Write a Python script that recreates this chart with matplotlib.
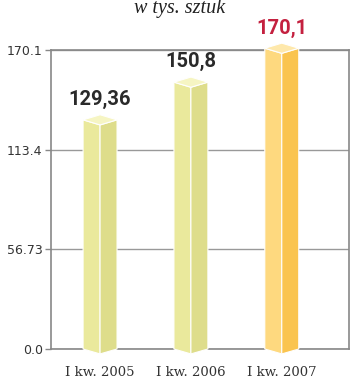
import numpy as np
import matplotlib
matplotlib.use("Agg")
from matplotlib import pyplot as plt
from matplotlib.patches import Polygon

# Data
categories = ["I kw. 2005", "I kw. 2006", "I kw. 2007"]
values = [129.36, 150.8, 170.1]
value_labels = ["129,36", "150,8", "170,1"]
y_ticks = [0.0, 56.73, 113.4, 170.1]
y_tick_labels = ["0.0", "56.73", "113.4", "170.1"]

plain_faces = ("#eae99c", "#dedd8b", "#f6f5c3")
hot_faces = ("#fed97f", "#fac44f", "#fee8ab")

fig = plt.figure(figsize=(3.5, 3.85), dpi=100)
ax = fig.add_axes([51 / 350, 36 / 385, 298 / 350, 299 / 385])

ymax = y_ticks[-1]
ax.set_ylim(0, ymax)
ax.set_xlim(-0.54, 2.74)

half = 0.187
rise = 2.9  # half height of the top rhombus (data units)
drop = 2.8  # depth of the V at the bottom

x = np.arange(len(values))
for i, (xc, v) in enumerate(zip(x, values)):
    left_c, right_c, top_c = hot_faces if i == len(values) - 1 else plain_faces
    xl, xr = xc - half, xc + half
    top = v + 1.0
    left_face = [(xl, top), (xc, top - rise), (xc, -drop), (xl, 0)]
    right_face = [(xc, top - rise), (xr, top), (xr, 0), (xc, -drop)]
    top_face = [(xl, top), (xc, top - rise), (xr, top), (xc, top + rise)]
    for pts, col in ((left_face, left_c), (right_face, right_c), (top_face, top_c)):
        ax.add_patch(Polygon(pts, closed=True, facecolor=col, edgecolor="white",
                             linewidth=0.8, clip_on=False, zorder=3))

    label_color = "#c4203f" if i == len(values) - 1 else "#2a2a2a"
    ax.text(xc, top + rise + 3.2, value_labels[i], ha="center", va="bottom",
            fontsize=14.5, fontweight="bold", family="Roboto", color=label_color,
            zorder=4)

ax.set_yticks(y_ticks)
ax.set_yticklabels(y_tick_labels, family="DejaVu Sans", fontsize=9, color="#333333")
ax.set_xticks(x)
ax.set_xticklabels(categories, family="DejaVu Serif", fontsize=9.5, color="#333333")
ax.tick_params(axis="y", length=4, width=1, color="#888888", pad=2)
ax.tick_params(axis="x", length=0, pad=12)

ax.grid(axis="y", color="#999999", linewidth=1, zorder=1)
ax.set_axisbelow(True)
for s in ax.spines.values():
    s.set_color("#888888")
    s.set_linewidth(1.2)

fig.text(180 / 350, 1 - 9 / 385, "w tys. sztuk", ha="center", va="center",
         family="Liberation Serif", style="italic", fontsize=14.5, color="#222222")

fig.savefig("out.png", dpi=100)
